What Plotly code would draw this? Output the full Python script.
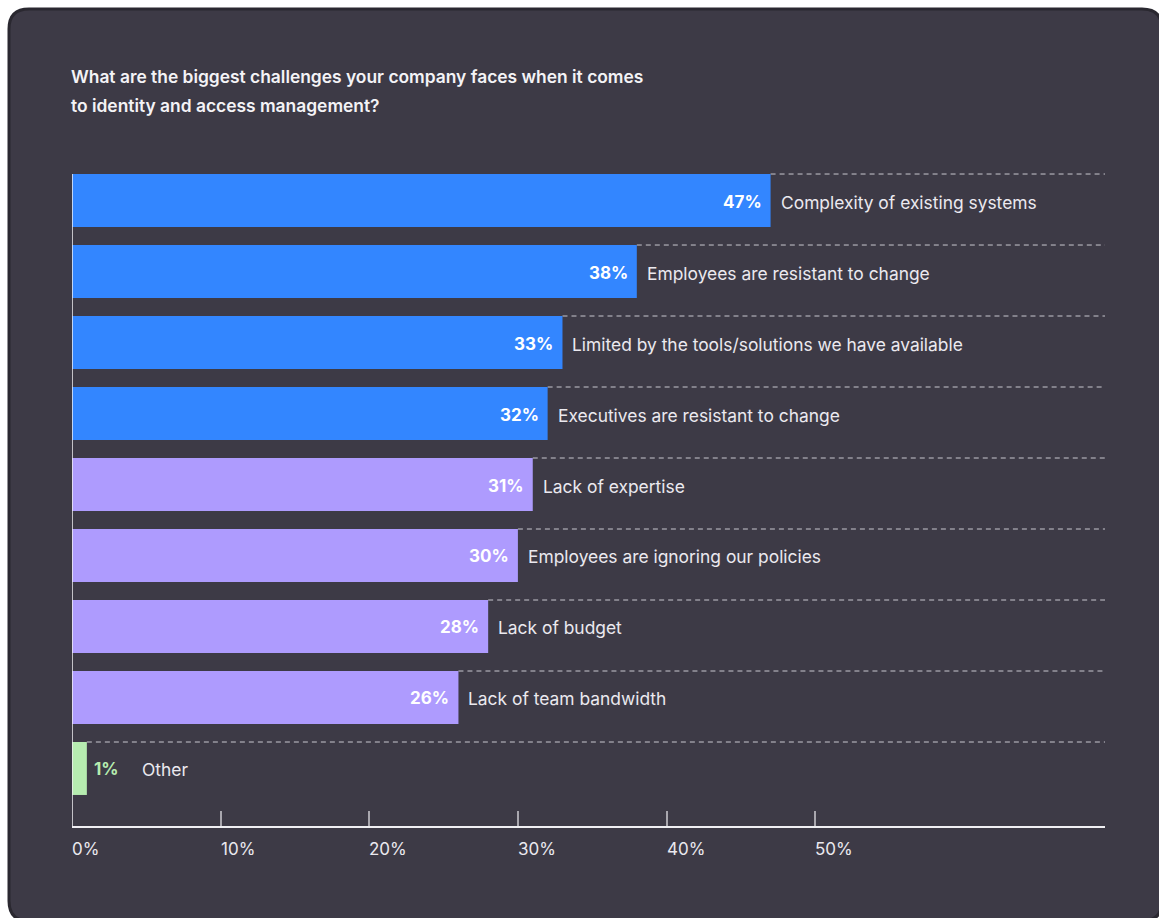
import plotly.graph_objects as go

# Survey results: biggest identity & access management challenges
categories = [
    "Complexity of existing systems",
    "Employees are resistant to change",
    "Limited by the tools/solutions we have available",
    "Executives are resistant to change",
    "Lack of expertise",
    "Employees are ignoring our policies",
    "Lack of budget",
    "Lack of team bandwidth",
    "Other",
]
values = [47, 38, 33, 32, 31, 30, 28, 26, 1]
groups = ["top", "top", "top", "top", "mid", "mid", "mid", "mid", "other"]
tick_values = [0, 10, 20, 30, 40, 50]
tick_labels = ["0%", "10%", "20%", "30%", "40%", "50%"]

title_lines = [
    "What are the biggest challenges your company faces when it comes",
    "to identity and access management?",
]

W, H = 1159, 918
FONT = "Inter"
CARD = "#3d3a46"
TEXT = "#ebe9ef"
group_colors = {"top": "#3386ff", "mid": "#ae9bfe", "other": "#b6ecb0"}

X_MAX = 69.5
BAR_W = 0.746
Y_BOTTOM = 8.81


def fx(x):
    return x / W


def fy(y):
    return 1 - y / H


colors = [group_colors[g] for g in groups]

fig = go.Figure()
fig.add_trace(go.Bar(
    x=values,
    y=categories,
    orientation="h",
    width=BAR_W,
    marker=dict(color=colors, line=dict(width=0)),
    hoverinfo="skip",
))

shapes = []

# Card background with rounded corners
l, t, r, b, rad = 9, 9, 1162, 921, 20
path = (
    f"M {fx(l + rad)},{fy(t)} L {fx(r - rad)},{fy(t)} "
    f"Q {fx(r)},{fy(t)} {fx(r)},{fy(t + rad)} "
    f"L {fx(r)},{fy(b - rad)} Q {fx(r)},{fy(b)} {fx(r - rad)},{fy(b)} "
    f"L {fx(l + rad)},{fy(b)} Q {fx(l)},{fy(b)} {fx(l)},{fy(b - rad)} "
    f"L {fx(l)},{fy(t + rad)} Q {fx(l)},{fy(t)} {fx(l + rad)},{fy(t)} Z"
)
shapes.append(dict(type="path", path=path, xref="paper", yref="paper",
                   fillcolor=CARD, line=dict(color="#2a2830", width=3),
                   layer="below"))

# Dashed guide lines from each bar end along the bar's top edge
for i, v in enumerate(values):
    shapes.append(dict(type="line", xref="x", yref="y",
                       x0=v, x1=X_MAX, y0=i - BAR_W / 2, y1=i - BAR_W / 2,
                       line=dict(color="#c9c7cf", width=1, dash="5px,4px"),
                       layer="below"))

# Left axis line
shapes.append(dict(type="line", xref="x", yref="y",
                   x0=0, x1=0, y0=-BAR_W / 2, y1=Y_BOTTOM,
                   line=dict(color="#f0eff3", width=1.5)))

annotations = []
for i, (c, v, g) in enumerate(zip(categories, values, groups)):
    inside = v >= 5
    if inside:
        annotations.append(dict(x=v, y=i, xref="x", yref="y", text=f"{v}%",
                                showarrow=False, xanchor="right", xshift=-7,
                                yshift=-1,
                                font=dict(family=FONT, size=17, color="#ffffff",
                                          weight=700)))
        label_shift = 8
    else:
        annotations.append(dict(x=v, y=i, xref="x", yref="y", text=f"{v}%",
                                showarrow=False, xanchor="left", xshift=5,
                                yshift=-1,
                                font=dict(family=FONT, size=17,
                                          color=group_colors[g], weight=700)))
        label_shift = 53
    annotations.append(dict(x=v, y=i, xref="x", yref="y", text=c,
                            showarrow=False, xanchor="left", xshift=label_shift,
                            yshift=-1.5,
                            font=dict(family=FONT, size=17.4, color=TEXT)))

# Tick labels, left-aligned at their tick
for tv, tl in zip(tick_values, tick_labels):
    annotations.append(dict(x=tv, y=fy(849), xref="x", yref="paper", text=tl,
                            showarrow=False, xanchor="left", yanchor="middle",
                            xshift=-2,
                            font=dict(family=FONT, size=17, color=TEXT)))

# Title
for k, line in enumerate(title_lines):
    annotations.append(dict(x=fx(69), y=fy(77 + 28 * k), xref="paper",
                            yref="paper", text=line, showarrow=False,
                            xanchor="left", yanchor="middle",
                            font=dict(family=FONT, size=17.4, color="#f4f3f6",
                                      weight=600)))

fig.update_layout(
    width=W, height=H,
    margin=dict(l=0, r=0, t=0, b=0),
    paper_bgcolor="#ffffff",
    plot_bgcolor="rgba(0,0,0,0)",
    showlegend=False,
    shapes=shapes,
    annotations=annotations,
    xaxis=dict(domain=[fx(72), fx(1105)], range=[0, X_MAX],
               tickvals=tick_values[1:], ticks="inside", ticklen=15,
               tickwidth=1.5, tickcolor="#a9a7ae", showticklabels=False,
               showgrid=False, zeroline=False, showline=True,
               linecolor="#f0eff3", linewidth=1.5, fixedrange=True),
    yaxis=dict(domain=[fy(826), fy(165)], type="category",
               categoryarray=categories, range=[Y_BOTTOM, -0.5],
               showticklabels=False, showgrid=False, zeroline=False,
               showline=False, ticks="", fixedrange=True),
)

fig.write_html("out.html")
